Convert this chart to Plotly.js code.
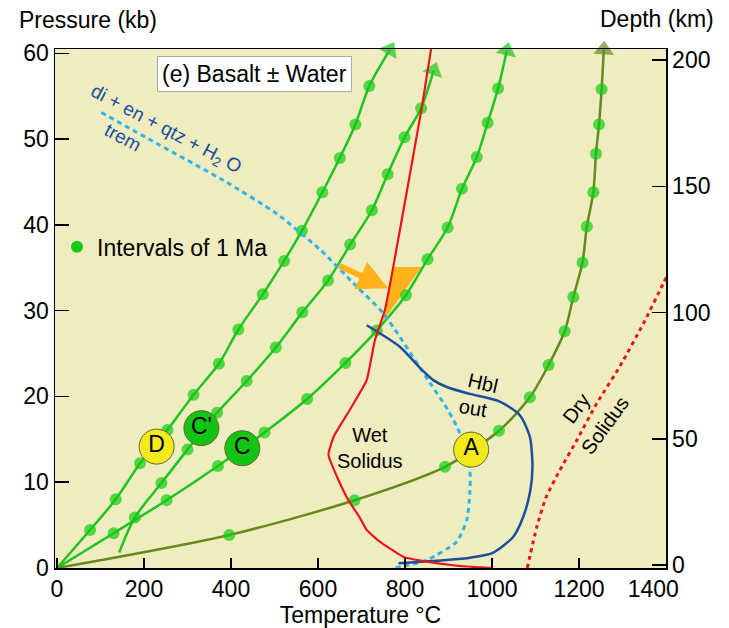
<!DOCTYPE html>
<html>
<head>
<meta charset="utf-8">
<script src="https://cdn.plot.ly/plotly-3.0.1.min.js"></script>
<style>
html,body{margin:0;padding:0;background:#fff;}
#chart{width:729px;height:628px;}
</style>
</head>
<body>
<div id="chart"></div>
<script>
// ---- Data ----
// Temperature (°C) / Pressure (kb) paths of the geotherms, dots at 1 Ma intervals
const tempD = [0,76,135,191,254,314,372,417,473,522,563,610,650,686,718,765];
const presD = [0,4.43,8.0,12.2,16.1,20.2,23.8,27.8,31.9,35.8,39.3,43.8,47.8,51.7,56.2,60.4];

const tempCp = [143,179,240,300,368,436,503,564,623,674,724,760,799,837,866];
const presCp = [1.8,5.9,9.9,13.8,18.1,21.8,25.7,29.8,33.5,37.7,41.7,45.9,50.2,53.6,58.0];

const tempC = [0,130,252,370,477,575,663,735,802,852,898,931,965,990,1014,1034];
const presC = [0,4.05,7.9,11.9,15.8,19.7,23.9,27.7,31.8,36.0,39.7,44.2,47.9,51.9,55.9,60.3];

const tempA = [0,396,684,892,1016,1087,1130,1167,1187,1208,1218,1233,1239,1246,1252,1257];
const presA = [0,3.85,7.9,11.8,16.0,19.9,23.66,27.6,31.6,35.6,39.8,43.8,48.3,51.7,55.8,60.4];

// Wet solidus
const tempWet = [1000,926,850,796,742,712,697,670,647,624,636,675,712,731,754,773,839,860];
const presWet = [0,0.23,0.74,1.32,3.07,4.43,5.79,7.9,10.26,13.2,15.3,18.6,21.9,26.6,30.1,35.1,53.8,60.5];

// Dry solidus
const tempDry = [1081,1103,1124,1156,1195,1241,1294,1348,1394,1410];
const presDry = [0,4.8,8.2,11.4,14.9,19.2,23.5,28.5,33.2,34.8];

// Hornblende-out
const tempHbl = [712,788,835,865,896,949,1018,1064,1087,1093,1088,1072,1049,1003,950,888,785];
const presHbl = [28.3,25.8,23.3,21.9,21.1,20.3,19.4,17.8,15.3,11.8,9.0,6.0,3.65,1.8,1.2,0.9,0.55];

// di + en + qtz + H2O = trem reaction
const tempTrem = [102,229,382,505,605,689,750,857,899,926,949,949,942,919,850,777];
const presTrem = [53.1,49.5,45.2,41.3,37.1,32.8,29.7,21.6,18.4,15.7,11.4,8.7,5.6,3.07,0.93,0];

// Orange region
const tempTri = [750,773,838,750];
const presTri = [28.8,35.1,35.1,28.8];

// Labelled points
const labelNames = ['D', "C'", 'C', 'A'];
const labelTemp = [229, 332, 426, 952];
const labelPres = [14.15, 16.3, 13.96, 13.8];
const labelFill = ['#f2ea1c', '#14c414', '#14c414', '#f2ea1c'];

// Axes
const tempTicks = [0,200,400,600,800,1000,1200,1400];
const tempTickText = ['0','200','400','600','800','1000','1200','1400\u00a0\u00a0\u00a0\u00a0'];
const presTicks = [0,10,20,30,40,50,60];
const depthTicks = [0,50,100,150,200];

// ---- Styles ----
const GREEN = '#1fc41f';
const DOT = '#12cc12';
const OLIVE = '#66891e';
const RED = '#e8161b';
const BLUE = '#1a4f9f';
const CYAN = '#31b4ee';
const FONT = 'Liberation Sans, Arial, Helvetica, sans-serif';

function geotherm(xs, ys, lineColor, firstHidden) {
  const n = xs.length;
  const sizes = xs.map((_, i) => (i === n - 1 ? 18 : (i < firstHidden ? 0 : 12)));
  const symbols = xs.map((_, i) => (i === n - 1 ? 'triangle-up' : 'circle'));
  const colors = xs.map((_, i) => (i === n - 1 ? lineColor : DOT));
  return {
    x: xs, y: ys, type: 'scatter', mode: 'lines+markers',
    line: {color: lineColor, width: 2.5, shape: 'spline', smoothing: 0.8},
    marker: {size: sizes, symbol: symbols, color: colors, angleref: 'previous', line: {width: 0}},
    cliponaxis: false, showlegend: false, hoverinfo: 'skip'
  };
}

const traces = [
  {x: tempTri, y: presTri, type: 'scatter', mode: 'lines', fill: 'toself',
   fillcolor: '#ffb21a', line: {width: 0, color: '#ffb21a'}, showlegend: false, hoverinfo: 'skip'},
  geotherm(tempD, presD, GREEN, 1),
  geotherm(tempCp, presCp, GREEN, 0),
  geotherm(tempC, presC, GREEN, 1),
  geotherm(tempA, presA, OLIVE, 1),
  {x: tempTrem, y: presTrem, type: 'scatter', mode: 'lines',
   line: {color: CYAN, width: 3, dash: '5px,4px', shape: 'spline', smoothing: 0.6},
   showlegend: false, hoverinfo: 'skip'},
  {x: tempHbl, y: presHbl, type: 'scatter', mode: 'lines',
   line: {color: BLUE, width: 2.5, shape: 'spline', smoothing: 0.7},
   showlegend: false, hoverinfo: 'skip'},
  {x: tempWet, y: presWet, type: 'scatter', mode: 'lines',
   line: {color: RED, width: 2.2, shape: 'spline', smoothing: 0.4},
   showlegend: false, hoverinfo: 'skip'},
  {x: tempDry, y: presDry, type: 'scatter', mode: 'lines',
   line: {color: RED, width: 3, dash: '4px,4px', shape: 'spline', smoothing: 0.6},
   showlegend: false, hoverinfo: 'skip'},
  {x: labelTemp, y: labelPres, text: labelNames, type: 'scatter', mode: 'markers+text',
   textposition: 'middle center', textfont: {family: FONT, size: 23, color: '#000'},
   marker: {size: 35, color: labelFill, line: {color: '#5e6a2e', width: 1}},
   cliponaxis: false, showlegend: false, hoverinfo: 'skip'},
  {x: [null], y: [null], type: 'scatter', mode: 'markers', name: 'Intervals of 1 Ma',
   marker: {size: 12, color: DOT}, showlegend: true, hoverinfo: 'skip'},
  {x: [], y: [], type: 'scatter', yaxis: 'y2', showlegend: false, hoverinfo: 'skip'}
];

const layout = {
  width: 729, height: 628,
  margin: {l: 55, r: 63, t: 49, b: 60},
  paper_bgcolor: '#ffffff',
  plot_bgcolor: '#efedc0',
  font: {family: FONT, size: 23, color: '#000'},
  xaxis: {
    range: [-4.6, 1400], tickvals: tempTicks, ticktext: tempTickText,
    ticks: 'inside', ticklen: 10, tickwidth: 1.5, tickcolor: '#000',
    showline: true, linecolor: '#000', linewidth: 1.5, mirror: true,
    showgrid: false, zeroline: false,
    tickfont: {family: FONT, size: 23},
    title: {text: 'Temperature °C', font: {family: FONT, size: 23}, standoff: 4}
  },
  yaxis: {
    range: [0, 60.5], tickvals: presTicks,
    ticks: 'inside', ticklen: 14, tickwidth: 1.5, tickcolor: '#000',
    showline: true, linecolor: '#000', linewidth: 1.5,
    showgrid: false, zeroline: false,
    tickfont: {family: FONT, size: 23}
  },
  yaxis2: {
    overlaying: 'y', side: 'right', anchor: 'x',
    range: [-1.19, 204.4], tickvals: depthTicks,
    ticks: 'inside', ticklen: 14, tickwidth: 1.5, tickcolor: '#000',
    showline: true, linecolor: '#000', linewidth: 1.5,
    showgrid: false, zeroline: false,
    tickfont: {family: FONT, size: 23}
  },
  legend: {
    x: 0.0033, y: 0.619, xanchor: 'left', yanchor: 'middle',
    bgcolor: 'rgba(0,0,0,0)', borderwidth: 0,
    font: {family: FONT, size: 23, color: '#000'}
  },
  annotations: [
    {xref: 'paper', yref: 'paper', x: 0.0548, y: 1.0559, text: 'Pressure (kb)',
     showarrow: false, font: {size: 23}, xanchor: 'center', yanchor: 'middle'},
    {xref: 'paper', yref: 'paper', x: 0.986, y: 1.0578, text: 'Depth (km)',
     showarrow: false, font: {size: 23}, xanchor: 'center', yanchor: 'middle'},
    {x: 454, y: 57.6, text: '(e) Basalt ± Water', showarrow: false,
     font: {size: 23}, bgcolor: '#ffffff', bordercolor: '#aaaaaa', borderwidth: 1, borderpad: 4},
    {x: 250, y: 51.06, text: 'di + en + qtz + H<sub>2</sub> O', showarrow: false, textangle: 28,
     font: {size: 19, color: BLUE}},
    {x: 151.7, y: 50.2, text: 'trem', showarrow: false, textangle: 28,
     font: {size: 19, color: BLUE}},
    {x: 719.6, y: 14.0, text: 'Wet<br>Solidus', showarrow: false,
     font: {size: 20}},
    {x: 979, y: 21.57, text: 'Hbl', showarrow: false, textangle: 13, font: {size: 20}},
    {x: 956, y: 18.65, text: 'out', showarrow: false, textangle: 10, font: {size: 20}},
    {x: 1195, y: 18.6, text: 'Dry', showarrow: false, textangle: -54, font: {size: 20}},
    {x: 1260, y: 16.67, text: 'Solidus', showarrow: false, textangle: -54, font: {size: 20}},
    {x: 761, y: 32.6, ax: 646, ay: 35.3, axref: 'x', ayref: 'y', text: '',
     showarrow: true, arrowhead: 2, arrowsize: 1, arrowwidth: 6, arrowcolor: '#ffb21a'}
  ]
};

Plotly.newPlot('chart', traces, layout, {displayModeBar: false, staticPlot: true});
</script>
</body>
</html>
